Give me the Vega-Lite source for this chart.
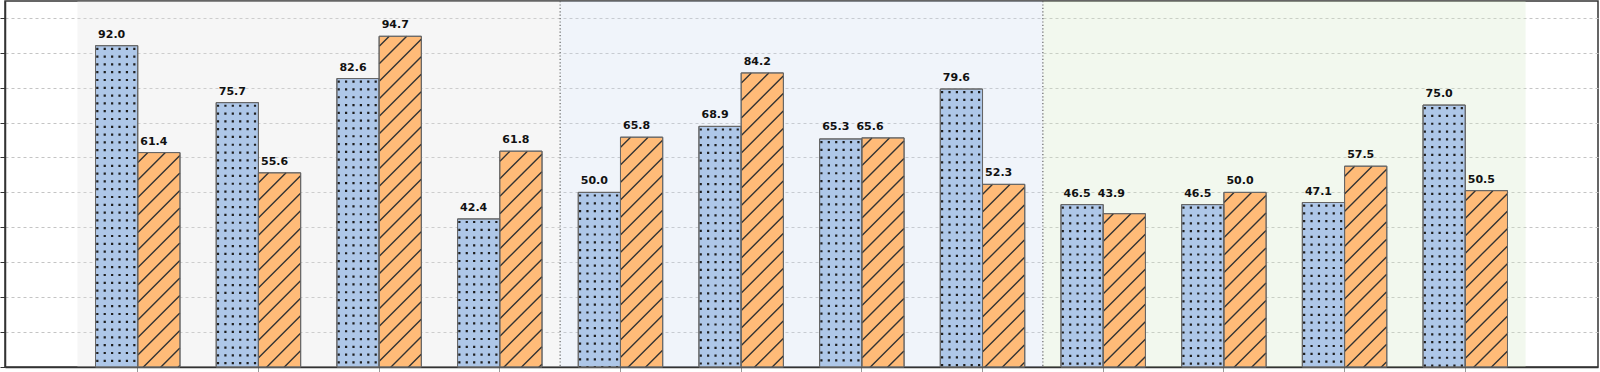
{
  "$schema": "https://vega.github.io/schema/vega-lite/v6.json",
  "width": 1593,
  "height": 366,
  "autosize": {"type": "none"},
  "padding": {"left": 5, "top": 1, "right": 2, "bottom": 5},
  "background": "#ffffff",
  "config": {
    "view": {"stroke": "#333333", "strokeWidth": 1.5},
    "font": "DejaVu Sans"
  },
  "resolve": {"scale": {"x": "independent", "fill": "independent"}, "axis": {"x": "independent"}},
  "layer": [
    {
      "layer": [
        {
          "data": {"values": [
            {"start": -0.5, "end": 3.5, "region": "R1"},
            {"start": 3.5, "end": 7.5, "region": "R2"},
            {"start": 7.5, "end": 11.5, "region": "R3"}
          ]},
          "mark": {"type": "rect", "opacity": 0.3},
          "encoding": {
            "x": {"field": "start", "type": "quantitative", "scale": {"domain": [-1.1, 12.1], "nice": false, "zero": false}, "axis": null},
            "x2": {"field": "end"},
            "fill": {"field": "region", "type": "nominal", "scale": {"domain": ["R1", "R2", "R3"], "range": ["#e0e0e0", "#cddaee", "#d4e8c6"]}, "legend": null}
          }
        },
        {
          "data": {"values": [{"pos": 3.5}, {"pos": 7.5}]},
          "mark": {"type": "rule", "color": "#666666", "strokeWidth": 1.2, "strokeDash": [1.2, 2.2]},
          "encoding": {
            "x": {"field": "pos", "type": "quantitative", "scale": {"domain": [-1.1, 12.1], "nice": false, "zero": false}, "axis": null}
          }
        }
      ]
    },
    {
      "data": {"values": [
        {"group": "1", "series": "A", "value": 92.0},
        {"group": "1", "series": "B", "value": 61.4},
        {"group": "2", "series": "A", "value": 75.7},
        {"group": "2", "series": "B", "value": 55.6},
        {"group": "3", "series": "A", "value": 82.6},
        {"group": "3", "series": "B", "value": 94.7},
        {"group": "4", "series": "A", "value": 42.4},
        {"group": "4", "series": "B", "value": 61.8},
        {"group": "5", "series": "A", "value": 50.0},
        {"group": "5", "series": "B", "value": 65.8},
        {"group": "6", "series": "A", "value": 68.9},
        {"group": "6", "series": "B", "value": 84.2},
        {"group": "7", "series": "A", "value": 65.3},
        {"group": "7", "series": "B", "value": 65.6},
        {"group": "8", "series": "A", "value": 79.6},
        {"group": "8", "series": "B", "value": 52.3},
        {"group": "9", "series": "A", "value": 46.5},
        {"group": "9", "series": "B", "value": 43.9},
        {"group": "10", "series": "A", "value": 46.5},
        {"group": "10", "series": "B", "value": 50.0},
        {"group": "11", "series": "A", "value": 47.1},
        {"group": "11", "series": "B", "value": 57.5},
        {"group": "12", "series": "A", "value": 75.0},
        {"group": "12", "series": "B", "value": 50.5}
      ]},
      "transform": [
        {"joinaggregate": [{"op": "max", "field": "value", "as": "gmax"}, {"op": "min", "field": "value", "as": "gmin"}], "groupby": ["group"]},
        {"calculate": "datum.gmax - datum.gmin < 3 ? 1 : 0", "as": "close"},
        {"calculate": "datum.close == 1 ? datum.gmax : datum.value", "as": "labelY"}
      ],
      "encoding": {
        "x": {
          "field": "group", "type": "nominal",
          "sort": ["1","2","3","4","5","6","7","8","9","10","11","12"],
          "scale": {"paddingInner": 0.3, "paddingOuter": 0.75},
          "axis": {"labels": false, "title": null, "ticks": true, "tickSize": 5, "tickColor": "#999999", "tickWidth": 1, "domain": true, "domainColor": "#333333", "domainWidth": 1.5, "grid": false, "bandPosition": 0.5}
        },
        "xOffset": {"field": "series", "type": "nominal", "scale": {"domain": ["A", "B"], "paddingInner": 0, "paddingOuter": 0}}
      },
      "layer": [
        {
          "mark": {"type": "bar", "stroke": "#666666", "strokeWidth": 1},
          "encoding": {
            "y": {
              "field": "value", "type": "quantitative",
              "scale": {"domain": [0, 104.8], "nice": false},
              "axis": {"labels": false, "title": null, "ticks": true, "tickSize": 5, "tickColor": "#333333", "domain": true, "domainColor": "#333333", "domainWidth": 1.5, "grid": true, "gridColor": "#c4c4c4", "gridDash": [3, 3], "gridWidth": 1, "values": [0, 10, 20, 30, 40, 50, 60, 70, 80, 90, 100]}
            },
            "fill": {"field": "series", "type": "nominal", "scale": {"domain": ["A", "B"], "range": ["#aec7e8", "#ffbb78"]}, "legend": null}
          }
        },
        {
          "transform": [{"filter": "datum.series == 'A'"}],
          "mark": {
            "type": "point",
            "shape": "M-19.3 2V345M-11.9 2V345M-4.5 2V345M2.9 2V345M10.3 2V345M17.7 2V345",
            "size": 4,
            "filled": false,
            "color": "#1e1e1e",
            "opacity": 1,
            "strokeWidth": 2.2,
            "strokeDash": [2.2, 5.6],
            "clip": true
          },
          "encoding": {
            "y": {"field": "value", "type": "quantitative", "scale": {"domain": [0, 104.8], "nice": false},
              "axis": {"labels": false, "title": null, "ticks": true, "tickSize": 5, "tickColor": "#333333", "domain": true, "domainColor": "#333333", "domainWidth": 1.5, "grid": true, "gridColor": "#c4c4c4", "gridDash": [3, 3], "gridWidth": 1, "values": [0, 10, 20, 30, 40, 50, 60, 70, 80, 90, 100]}}
          }
        },
        {
          "transform": [{"filter": "datum.series == 'B'"}],
          "mark": {
            "type": "point",
            "shape": "M-21 10L-11 0M-21 27.5L6.5 0M-21 45L21 3M-21 62.5L21 20.5M-21 80L21 38M-21 97.5L21 55.5M-21 115L21 73M-21 132.5L21 90.5M-21 150L21 108M-21 167.5L21 125.5M-21 185L21 143M-21 202.5L21 160.5M-21 220L21 178M-21 237.5L21 195.5M-21 255L21 213M-21 272.5L21 230.5M-21 290L21 248M-21 307.5L21 265.5M-21 325L21 283M-21 342.5L21 300.5M-21 360L21 318M-21 377.5L21 335.5",
            "size": 4,
            "filled": false,
            "color": "#333333",
            "opacity": 1,
            "strokeWidth": 1.4,
            "clip": true
          },
          "encoding": {
            "y": {"field": "value", "type": "quantitative", "scale": {"domain": [0, 104.8], "nice": false},
              "axis": {"labels": false, "title": null, "ticks": true, "tickSize": 5, "tickColor": "#333333", "domain": true, "domainColor": "#333333", "domainWidth": 1.5, "grid": true, "gridColor": "#c4c4c4", "gridDash": [3, 3], "gridWidth": 1, "values": [0, 10, 20, 30, 40, 50, 60, 70, 80, 90, 100]}}
          }
        },
        {
          "mark": {"type": "bar", "fillOpacity": 0, "stroke": "#666666", "strokeWidth": 1},
          "encoding": {
            "y": {"field": "value", "type": "quantitative", "scale": {"domain": [0, 104.8], "nice": false},
              "axis": {"labels": false, "title": null, "ticks": true, "tickSize": 5, "tickColor": "#333333", "domain": true, "domainColor": "#333333", "domainWidth": 1.5, "grid": true, "gridColor": "#c4c4c4", "gridDash": [3, 3], "gridWidth": 1, "values": [0, 10, 20, 30, 40, 50, 60, 70, 80, 90, 100]}}
          }
        },
        {
          "transform": [{"filter": "!(datum.close == 1 && datum.series == 'B')"}],
          "mark": {"type": "text", "font": "DejaVu Sans", "fontSize": 11, "fontWeight": "bold", "color": "#111111", "baseline": "alphabetic", "align": "center", "dx": -5, "dy": -8},
          "encoding": {
            "y": {"field": "labelY", "type": "quantitative", "scale": {"domain": [0, 104.8], "nice": false},
              "axis": {"labels": false, "title": null, "ticks": true, "tickSize": 5, "tickColor": "#333333", "domain": true, "domainColor": "#333333", "domainWidth": 1.5, "grid": true, "gridColor": "#c4c4c4", "gridDash": [3, 3], "gridWidth": 1, "values": [0, 10, 20, 30, 40, 50, 60, 70, 80, 90, 100]}},
            "text": {"field": "value", "type": "quantitative", "format": ".1f"}
          }
        },
        {
          "transform": [{"filter": "datum.close == 1 && datum.series == 'B'"}],
          "mark": {"type": "text", "font": "DejaVu Sans", "fontSize": 11, "fontWeight": "bold", "color": "#111111", "baseline": "alphabetic", "align": "center", "dx": -13, "dy": -8},
          "encoding": {
            "y": {"field": "labelY", "type": "quantitative", "scale": {"domain": [0, 104.8], "nice": false},
              "axis": {"labels": false, "title": null, "ticks": true, "tickSize": 5, "tickColor": "#333333", "domain": true, "domainColor": "#333333", "domainWidth": 1.5, "grid": true, "gridColor": "#c4c4c4", "gridDash": [3, 3], "gridWidth": 1, "values": [0, 10, 20, 30, 40, 50, 60, 70, 80, 90, 100]}},
            "text": {"field": "value", "type": "quantitative", "format": ".1f"}
          }
        }
      ]
    }
  ]
}
